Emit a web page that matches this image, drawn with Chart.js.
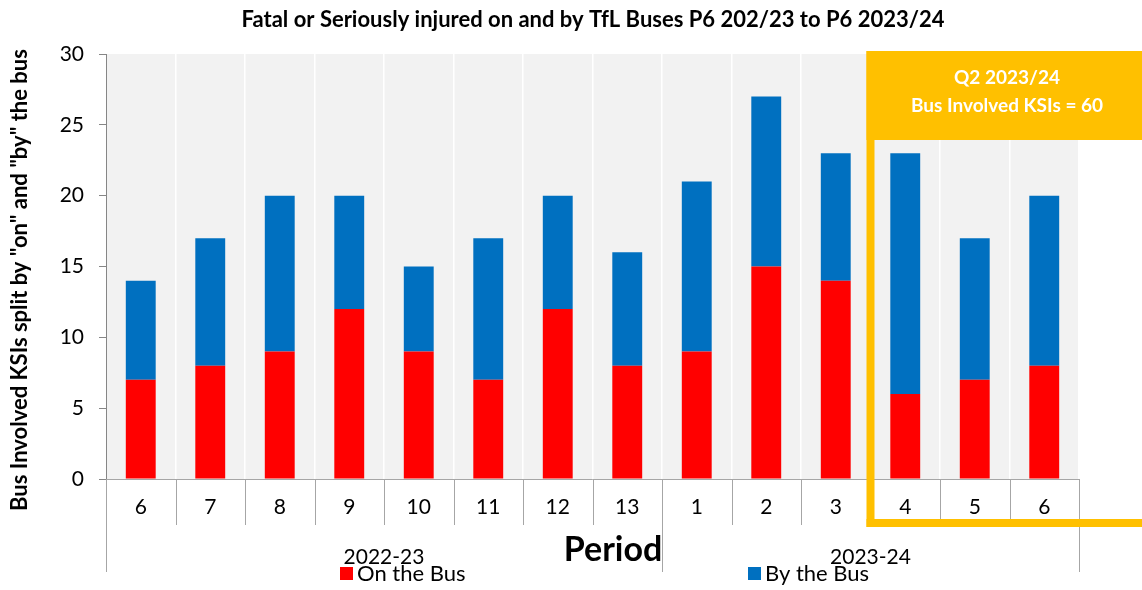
<!DOCTYPE html>
<html>
<head>
<meta charset="utf-8">
<script src="https://cdn.jsdelivr.net/npm/chart.js@4.4.1/dist/chart.umd.min.js"></script>
<style>
html, body { margin: 0; padding: 0; background: #fff; }
</style>
</head>
<body>
<canvas id="cv" width="1142" height="590"></canvas>
<script>
// period labels and the two KSI series
const periods = ['6', '7', '8', '9', '10', '11', '12', '13', '1', '2', '3', '4', '5', '6'];
const onTheBus = [7, 8, 9, 12, 9, 7, 12, 8, 9, 15, 14, 6, 7, 8];
const byTheBus = [7, 9, 11, 8, 6, 10, 8, 8, 12, 12, 9, 17, 10, 12];
const yearGroups = ['2022-23', '2023-24'];
const yearStart = [0, 8];          // first period index of each year
const q2Start = 11;                // first period of the highlighted quarter
const q2Text = ['Q2 2023/24', 'Bus Involved KSIs = 60'];

const FONT = 'Lato, "Open Sans", sans-serif';
const GOLD = '#ffc000';

const decor = {
  id: 'decor',
  beforeDraw(chart) {
    const { ctx, chartArea: a } = chart;
    ctx.save();
    ctx.fillStyle = '#f2f2f2';
    ctx.fillRect(a.left, a.top, a.right - a.left, a.bottom - a.top);
    ctx.restore();
  },
  afterDraw(chart) {
    const { ctx, chartArea: a } = chart;
    const x = chart.scales.x;
    const step = x.getPixelForValue(1) - x.getPixelForValue(0);
    const edge = i => x.getPixelForValue(i) - step / 2;

    ctx.save();
    // category separators under the axis
    ctx.strokeStyle = '#a6a6a6';
    ctx.lineWidth = 1;
    for (let i = 0; i <= periods.length; i++) {
      const px = Math.round(edge(i)) + 0.5;
      const long = i === 0 || i === periods.length || yearStart.includes(i);
      ctx.beginPath();
      ctx.moveTo(px, a.bottom);
      ctx.lineTo(px, long ? a.bottom + 93 : a.bottom + 46);
      ctx.stroke();
    }

    // year group labels
    ctx.fillStyle = '#000';
    ctx.font = '21px ' + FONT;
    ctx.textAlign = 'center';
    ctx.textBaseline = 'alphabetic';
    yearGroups.forEach((g, k) => {
      const from = edge(yearStart[k]);
      const to = edge(k + 1 < yearStart.length ? yearStart[k + 1] : periods.length);
      ctx.fillText(g, (from + to) / 2, 564);
    });

    // axis title "Period"
    ctx.font = 'bold 34px ' + FONT;
    ctx.fillText('Period', 613, 561);

    // chart title
    ctx.font = 'bold 22px ' + FONT;
    ctx.fillText('Fatal or Seriously injured on and by TfL Buses P6 202/23 to P6 2023/24', 593, 27);

    // y axis title
    ctx.save();
    ctx.translate(20, 280);
    ctx.rotate(-Math.PI / 2);
    ctx.font = 'bold 22px ' + FONT;
    ctx.textBaseline = 'middle';
    ctx.fillText('Bus Involved KSIs split by "on" and "by" the bus', 0, 0);
    ctx.restore();

    // legend
    ctx.font = '22px ' + FONT;
    ctx.textAlign = 'left';
    ctx.textBaseline = 'middle';
    const legendX = [340, 748];
    chart.data.datasets.forEach((ds, k) => {
      ctx.fillStyle = ds.backgroundColor;
      ctx.fillRect(legendX[k], 567, 13, 13);
      ctx.fillStyle = '#000';
      ctx.fillText(ds.label, legendX[k] + 17, 574);
    });

    // Q2 highlight box
    const bx = edge(q2Start);
    const top = a.top - 3;
    const bottom = a.bottom + 44;
    ctx.fillStyle = GOLD;
    ctx.fillRect(bx - 4, top, chart.width - bx + 4, 89);
    ctx.fillRect(bx - 4, top, 8, bottom - top + 4);
    ctx.fillRect(bx - 4, bottom - 4, chart.width - bx + 4, 8);
    ctx.fillStyle = '#fff';
    ctx.font = 'bold 19px ' + FONT;
    ctx.textAlign = 'center';
    ctx.fillText(q2Text[0], 1007, 78);
    ctx.fillText(q2Text[1], 1007, 106);
    ctx.restore();
  }
};

new Chart(document.getElementById('cv').getContext('2d'), {
  type: 'bar',
  data: {
    labels: periods,
    datasets: [
      { label: 'On the Bus', data: onTheBus, backgroundColor: '#ff0000' },
      { label: 'By the Bus', data: byTheBus, backgroundColor: '#0070c0' }
    ]
  },
  options: {
    responsive: false,
    animation: false,
    events: [],
    categoryPercentage: 1,
    barPercentage: 0.43,
    layout: { padding: { left: 46, right: 63, top: 54, bottom: 65 } },
    plugins: { legend: { display: false }, title: { display: false }, tooltip: { enabled: false } },
    scales: {
      x: {
        stacked: true,
        afterFit(s) { s.height = 46; },
        grid: { color: '#ffffff', lineWidth: 1.5, drawTicks: false, offset: true },
        border: { color: '#a6a6a6' },
        ticks: { color: '#000', padding: 16, font: { family: FONT, size: 21 } }
      },
      y: {
        stacked: true,
        min: 0,
        max: 30,
        afterFit(s) { s.width = 60; },
        grid: { drawOnChartArea: false, tickLength: 7, tickColor: '#868686' },
        border: { color: '#868686' },
        ticks: { stepSize: 5, color: '#000', padding: 15, font: { family: FONT, size: 21 } }
      }
    }
  },
  plugins: [decor]
});
</script>
</body>
</html>
